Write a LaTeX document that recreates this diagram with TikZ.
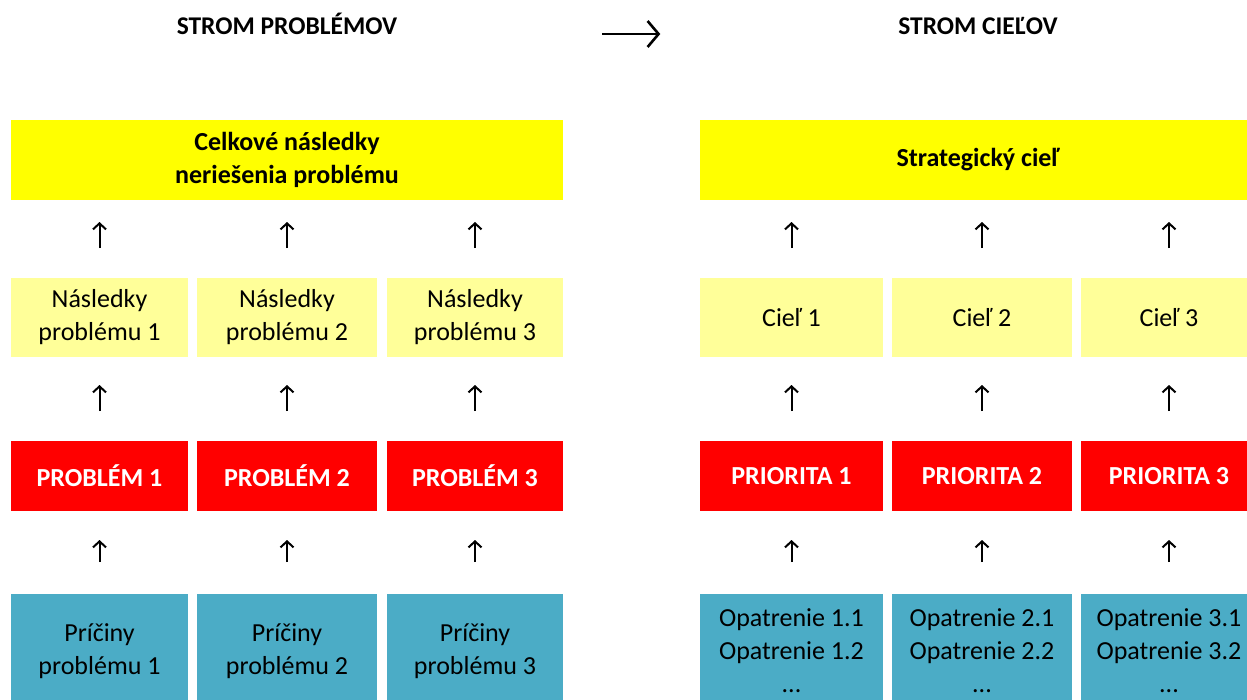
\documentclass[tikz,border=0pt]{standalone}
\usepackage{fontspec}
\setmainfont{Carlito}
\usetikzlibrary{arrows.meta}
\definecolor{cyellow}{HTML}{FFFF00}
\definecolor{clight}{HTML}{FFFF99}
\definecolor{cred}{HTML}{FF0000}
\definecolor{cblue}{HTML}{4BACC6}
\begin{document}
\begin{tikzpicture}[x=1pt,y=-1pt,
  box/.style={inner sep=0pt, outer sep=0pt, align=center, font=\fontsize{26}{33}\selectfont},
  topbox/.style={box, fill=cyellow, font=\fontsize{26}{33}\selectfont\bfseries, minimum height=80pt},
  ltbox/.style={box, fill=clight, minimum height=79pt},
  redbox/.style={box, fill=cred, text=white, font=\fontsize{26}{33}\selectfont\bfseries, minimum height=70pt},
  bluebox/.style={box, fill=cblue, minimum height=114pt},
  title/.style={inner sep=0pt, outer sep=0pt, font=\fontsize{25.5}{30}\selectfont\bfseries, anchor=base},
  arr/.style={-{Straight Barb[length=6pt,width=13pt]}, line width=2pt},
  bigarr/.style={-{Straight Barb[length=11pt,width=26pt]}, line width=2.6pt}
]
\clip (0,0) rectangle (1247,699);
\fill[white] (0,0) rectangle (1247,699);

% titles
\node[title] (t1) at (287,34) {STROM PROBLÉMOV};
\node[title] (t2) at (978,34) {STROM CIEĽOV};
\draw[bigarr, shorten <=205pt, shorten >=238pt] (t1.base east) -- (t2.base west);

% left tree
\node[topbox, minimum width=552pt] (g1) at (287,160) {Celkové následky\\neriešenia problému};
\node[ltbox, minimum width=177pt] (n1) at (99.5,317.5) {Následky\\problému 1};
\node[ltbox, minimum width=180pt] (n2) at (287,317.5) {Následky\\problému 2};
\node[ltbox, minimum width=176pt] (n3) at (475,317.5) {Následky\\problému 3};
\node[redbox, minimum width=177pt] (r1) at (99.5,476) {PROBLÉM 1};
\node[redbox, minimum width=180pt] (r2) at (287,476) {PROBLÉM 2};
\node[redbox, minimum width=176pt] (r3) at (475,476) {PROBLÉM 3};
\node[bluebox, minimum width=177pt] (b1) at (99.5,651) {Príčiny\\problému 1};
\node[bluebox, minimum width=180pt] (b2) at (287,651) {Príčiny\\problému 2};
\node[bluebox, minimum width=176pt] (b3) at (475,651) {Príčiny\\problému 3};

% right tree
\node[topbox, minimum width=556pt] (g2) at (978,160) {Strategický cieľ};
\node[ltbox, minimum width=183pt] (c1) at (791.5,317.5) {Cieľ 1};
\node[ltbox, minimum width=180pt] (c2) at (982,317.5) {Cieľ 2};
\node[ltbox, minimum width=176pt] (c3) at (1169,317.5) {Cieľ 3};
\node[redbox, minimum width=183pt] (p1) at (791.5,476) {PRIORITA 1};
\node[redbox, minimum width=180pt] (p2) at (982,476) {PRIORITA 2};
\node[redbox, minimum width=176pt] (p3) at (1169,476) {PRIORITA 3};
\node[bluebox, minimum width=183pt] (o1) at (791.5,651) {Opatrenie 1.1\\Opatrenie 1.2\\...};
\node[bluebox, minimum width=180pt] (o2) at (982,651) {Opatrenie 2.1\\Opatrenie 2.2\\...};
\node[bluebox, minimum width=176pt] (o3) at (1169,651) {Opatrenie 3.1\\Opatrenie 3.2\\...};

% arrows
\foreach \n/\r/\b/\g in {n1/r1/b1/g1, n2/r2/b2/g1, n3/r3/b3/g1, c1/p1/o1/g2, c2/p2/o2/g2, c3/p3/o3/g2}{
  \draw[arr, shorten <=30pt, shorten >=22pt] (\n.north) -- (\n.north |- \g.south);
  \draw[arr, shorten <=30pt, shorten >=28pt] (\r.north) -- (\n.south);
  \draw[arr, shorten <=32pt, shorten >=29pt] (\b.north) -- (\r.south);
}
\end{tikzpicture}
\end{document}
